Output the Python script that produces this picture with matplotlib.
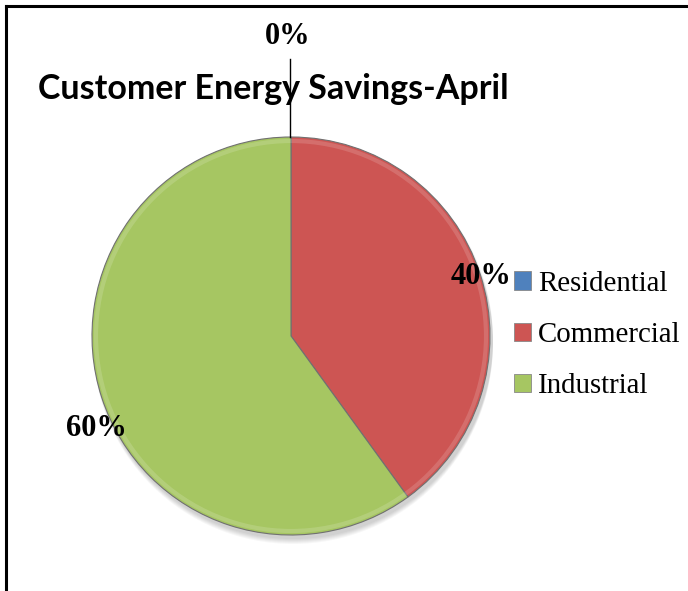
import matplotlib
matplotlib.use('Agg')
import matplotlib.pyplot as plt
from matplotlib.patches import Patch
import numpy as np

# data
categories = ['Residential', 'Commercial', 'Industrial']
values = [0, 40, 60]
pct_labels = ['0%', '40%', '60%']
colors = ['#4F81BD', '#CD5553', '#A6C662']
title = 'Customer Energy Savings-April'

W, H = 688, 591
fig = plt.figure(figsize=(W / 100, H / 100), dpi=100)
ax = fig.add_axes([0, 0, 1, 1])

cx, cy, r = 291, 336, 199

# soft shadow under the pie
for k in range(6):
    ax.add_patch(plt.Circle((cx + 2, cy + 3 + k), r + 1, color='black',
                            alpha=0.03, lw=0, zorder=1))

# y axis is flipped, so counterclock=True looks clockwise on screen
wedges, _ = ax.pie(values, colors=colors, startangle=-90, counterclock=True,
                   center=(cx, cy), radius=r, frame=True,
                   wedgeprops=dict(edgecolor='#707070', linewidth=0.8, zorder=2))
ax.set_xlim(0, W)
ax.set_ylim(H, 0)
ax.set_aspect('equal')
ax.axis('off')

# inner bevel highlight
ax.add_patch(plt.Circle((cx, cy), r - 4, fill=False, ec='white', lw=3, alpha=0.15, zorder=3))

lab_font = dict(family='Liberation Serif', weight='bold', fontsize=22, color='black')
ax.plot([290, 290], [59, cy - r], color='black', lw=1, zorder=4)
ax.text(288, 36, pct_labels[0], ha='center', va='center', **lab_font)
ax.text(481, 276, pct_labels[1], ha='center', va='center', zorder=5, **lab_font)
ax.text(96, 428, pct_labels[2], ha='center', va='center', **lab_font)

ax.text(38, 89, title, ha='left', va='center', family='Lato', weight='bold',
        fontsize=24.5, color='black', zorder=3)

# legend
handles = [Patch(facecolor=c, edgecolor='#888888', linewidth=0.6) for c in colors]
leg = ax.legend(handles, categories, loc='center left', bbox_to_anchor=(514 / W, 1 - 335 / H),
                frameon=False, prop=dict(family='Liberation Serif', size=20.8),
                handlelength=0.6, handleheight=0.6, handletextpad=0.22,
                labelspacing=0.88, borderpad=0, borderaxespad=0)

# border (top and left only, as in the reference)
ax.plot([6, W], [6, 6], color='black', lw=2.2, clip_on=False, zorder=6)
ax.plot([6, 6], [6, H], color='black', lw=2.2, clip_on=False, zorder=6)

fig.savefig('out.png', dpi=100)
